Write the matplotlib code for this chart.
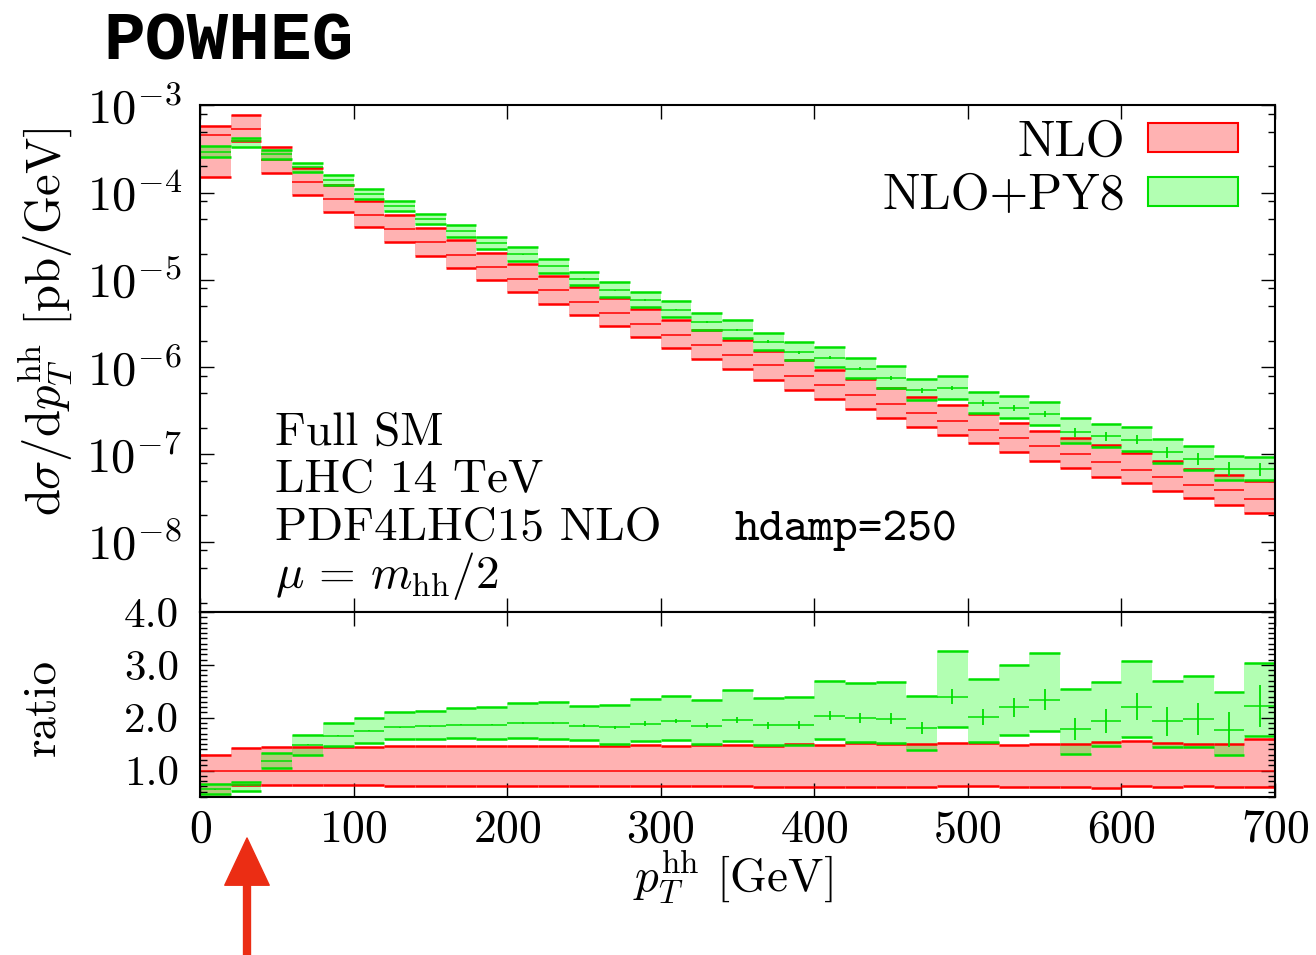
import numpy as np
import matplotlib
matplotlib.use("Agg")
import matplotlib.pyplot as plt
from matplotlib.patches import Patch, FancyArrowPatch
from matplotlib.ticker import LogLocator, FixedLocator, MultipleLocator, FormatStrFormatter, NullFormatter, FuncFormatter

plt.rcParams['font.family'] = 'cmr10'
plt.rcParams['mathtext.fontset'] = 'cm'
plt.rcParams['axes.formatter.use_mathtext'] = True
plt.rcParams['axes.unicode_minus'] = False

# pT^hh bins, 20 GeV wide (lower edges)
pt_lo = [0, 20, 40, 60, 80, 100, 120, 140, 160, 180, 200, 220, 240, 260, 280, 300, 320, 340,
         360, 380, 400, 420, 440, 460, 480, 500, 520, 540, 560, 580, 600, 620, 640, 660, 680]
bin_w = 20

# NLO central value [pb/GeV]
nlo = [4.55e-4, 5.42e-4, 2.35e-4, 1.32e-4, 8.41e-5, 5.56e-5, 3.84e-5, 2.70e-5, 1.95e-5, 1.41e-5,
       1.035e-5, 7.58e-6, 5.60e-6, 4.19e-6, 3.13e-6, 2.36e-6, 1.79e-6, 1.37e-6, 1.05e-6, 8.0e-7,
       6.31e-7, 4.84e-7, 3.82e-7, 3.01e-7, 2.40e-7, 1.92e-7, 1.56e-7, 1.25e-7, 1.02e-7, 8.27e-8,
       6.70e-8, 5.57e-8, 4.51e-8, 3.89e-8, 3.09e-8]

# NLO scale band, ratio to NLO central
nlo_up = [1.29, 1.42, 1.44, 1.44, 1.44, 1.45, 1.46, 1.46, 1.46, 1.46, 1.46, 1.47, 1.47, 1.47, 1.49,
          1.47, 1.48, 1.48, 1.47, 1.51, 1.48, 1.52, 1.51, 1.51, 1.52, 1.52, 1.48, 1.50, 1.50, 1.54,
          1.56, 1.52, 1.50, 1.50, 1.60]
nlo_dn = [0.33, 0.72, 0.72, 0.72, 0.72, 0.72, 0.70, 0.70, 0.70, 0.70, 0.70, 0.70, 0.70, 0.70, 0.70,
          0.70, 0.70, 0.70, 0.68, 0.68, 0.68, 0.68, 0.68, 0.68, 0.70, 0.70, 0.69, 0.68, 0.69, 0.67,
          0.70, 0.69, 0.70, 0.68, 0.69]

# NLO+PY8, ratio to NLO central
py8 = [0.645, 0.72, 1.18, 1.49, 1.66, 1.75, 1.82, 1.84, 1.87, 1.87, 1.90, 1.90, 1.85, 1.82, 1.89,
       1.94, 1.85, 1.96, 1.86, 1.86, 2.04, 1.99, 1.98, 1.80, 2.40, 2.02, 2.20, 2.34, 1.78, 1.94,
       2.21, 1.93, 1.98, 1.77, 2.22]
py8_dn = [0.56, 0.61, 1.04, 1.30, 1.46, 1.52, 1.59, 1.60, 1.61, 1.59, 1.61, 1.60, 1.58, 1.51, 1.55,
          1.58, 1.50, 1.56, 1.49, 1.49, 1.60, 1.545, 1.52, 1.38, 1.82, 1.545, 1.67, 1.75, 1.31, 1.46,
          1.63, 1.44, 1.45, 1.30, 1.66]
py8_up = [0.75, 0.785, 1.33, 1.68, 1.90, 1.99, 2.11, 2.13, 2.18, 2.21, 2.28, 2.29, 2.215, 2.24, 2.35,
          2.41, 2.34, 2.52, 2.37, 2.40, 2.69, 2.65, 2.67, 2.42, 3.27, 2.73, 2.99, 3.23, 2.54, 2.68,
          3.08, 2.69, 2.79, 2.49, 3.03]
py8_stat = [0.005, 0.005, 0.006, 0.007, 0.008, 0.009, 0.010, 0.011, 0.012, 0.013, 0.015, 0.017,
            0.025, 0.030, 0.040, 0.045, 0.050, 0.057, 0.066, 0.076, 0.090, 0.095, 0.100, 0.110,
            0.150, 0.150, 0.180, 0.200, 0.210, 0.230, 0.260, 0.280, 0.300, 0.330, 0.390]

x_lo = np.array(pt_lo, dtype=float)
x_hi = x_lo + bin_w
x_c = x_lo + bin_w / 2
nlo = np.array(nlo)

red_fill = (1, 0, 0, 0.3)
green_fill = (0, 1, 0, 0.3)
red_line = '#ff0000'
green_line = '#00e000'
fs = 33


def draw_band(a, mid, lo, hi, fill, line, stat=None):
    a.bar(x_lo, hi - lo, bottom=lo, width=bin_w, align='edge', color=fill, linewidth=0, zorder=1)
    a.hlines(hi, x_lo, x_hi, color=line, lw=1.8, zorder=2)
    a.hlines(lo, x_lo, x_hi, color=line, lw=1.8, zorder=2)
    a.hlines(mid, x_lo, x_hi, color=line, lw=1.1, zorder=2)
    if stat is not None:
        a.errorbar(x_c, mid, yerr=stat, fmt='none', ecolor=line, elinewidth=1.3, zorder=3)


fig = plt.figure(figsize=(13.16, 9.55), dpi=100)
ax = fig.add_axes([0.15198, 0.35916, 0.81686, 0.53042])
axr = fig.add_axes([0.15198, 0.16545, 0.81686, 0.19372])

# main panel
draw_band(ax, nlo, nlo * np.array(nlo_dn), nlo * np.array(nlo_up), red_fill, red_line)
draw_band(ax, nlo * np.array(py8), nlo * np.array(py8_dn), nlo * np.array(py8_up),
          green_fill, green_line, stat=nlo * np.array(py8_stat))
ax.set_yscale('log')
ax.set_xlim(0, 700)
ax.set_ylim(1.56e-9, 1e-3)
ax.yaxis.set_major_locator(LogLocator(base=10, numticks=20))
ax.yaxis.set_minor_locator(LogLocator(base=10, subs=[2, 5, 8], numticks=20))
ax.yaxis.set_minor_formatter(NullFormatter())
ax.yaxis.set_major_formatter(FuncFormatter(lambda v, p: r'$10^{%d}$' % round(np.log10(v))))
ax.xaxis.set_major_locator(MultipleLocator(100))
ax.tick_params(labelbottom=False)

# ratio panel
ones = np.ones(len(nlo))
draw_band(axr, ones, np.array(nlo_dn), np.array(nlo_up), red_fill, red_line)
draw_band(axr, np.array(py8), np.array(py8_dn), np.array(py8_up), green_fill, green_line,
          stat=np.array(py8_stat))
axr.set_xlim(0, 700)
axr.set_ylim(0.5, 4.0)
axr.xaxis.set_major_locator(MultipleLocator(100))
axr.yaxis.set_major_locator(FixedLocator([1, 2, 3, 4]))
axr.yaxis.set_minor_locator(MultipleLocator(0.1))
axr.yaxis.set_major_formatter(FormatStrFormatter('%.1f'))

for a in (ax, axr):
    for s in a.spines.values():
        s.set_linewidth(1.5)
    a.tick_params(which='both', direction='in', top=True, right=True, labelsize=fs, width=1.0)
    a.tick_params(which='major', length=10)
    a.tick_params(which='minor', length=5)
    a.tick_params(axis='y', pad=14)
    a.tick_params(axis='x', pad=9)
ax.tick_params(axis='y', labelsize=35, pad=13)
axr.tick_params(axis='y', labelsize=31, pad=15)

ax.text(0.0698, 0.3297, 'Full SM', transform=ax.transAxes, fontsize=34, va='baseline')
ax.text(0.0698, 0.2369, 'LHC 14 TeV', transform=ax.transAxes, fontsize=34, va='baseline')
ax.text(0.0698, 0.1422, 'PDF4LHC15 NLO', transform=ax.transAxes, fontsize=34, va='baseline')
ax.text(0.0698, 0.0474, r'$\mu\,=\,m_{\rm hh}/2$', transform=ax.transAxes, fontsize=34,
        va='baseline')
ax.text(0.4977, 0.1422, 'hdamp=250', transform=ax.transAxes, fontsize=34, va='baseline',
        family='cmtt10')

handles = [Patch(facecolor=red_fill, edgecolor=red_line, lw=1.5),
           Patch(facecolor=green_fill, edgecolor=green_line, lw=1.5)]
ax.legend(handles, ['NLO', 'NLO+PY8'], loc='upper right', bbox_to_anchor=(0.9656, 0.972),
          frameon=False, markerfirst=False, fontsize=36, handlelength=1.8, handleheight=0.52,
          handletextpad=0.46, labelspacing=0.16, borderpad=0, borderaxespad=0)

fig.text(0.034, 1 - 322 / 955, r'$\mathrm{d}\sigma/\mathrm{d}p_T^{\mathrm{hh}}$ [pb/GeV]',
         rotation=90, ha='center', va='center', fontsize=35)
fig.text(0.032, 1 - 707 / 955, 'ratio', rotation=90, ha='center', va='center', fontsize=34)
fig.text(733 / 1316, 1 - 877 / 955, r'$p_T^{\mathrm{hh}}$ [GeV]', ha='center', va='center',
         fontsize=34)

fig.text(103 / 1316, 1 - 42 / 955, 'POWHEG', family='Liberation Mono', weight='bold',
         fontsize=50, ha='left', va='center')

# red arrow pointing at the 20-40 GeV bin
arrow = FancyArrowPatch((247 / 1316, 0.0), (247 / 1316, 1 - 838 / 955), transform=fig.transFigure,
                        arrowstyle='simple,head_length=34,head_width=32,tail_width=5',
                        mutation_scale=1, color='#eb2d14', shrinkA=0, shrinkB=0)
fig.add_artist(arrow)

fig.savefig('out.png', dpi=100)
